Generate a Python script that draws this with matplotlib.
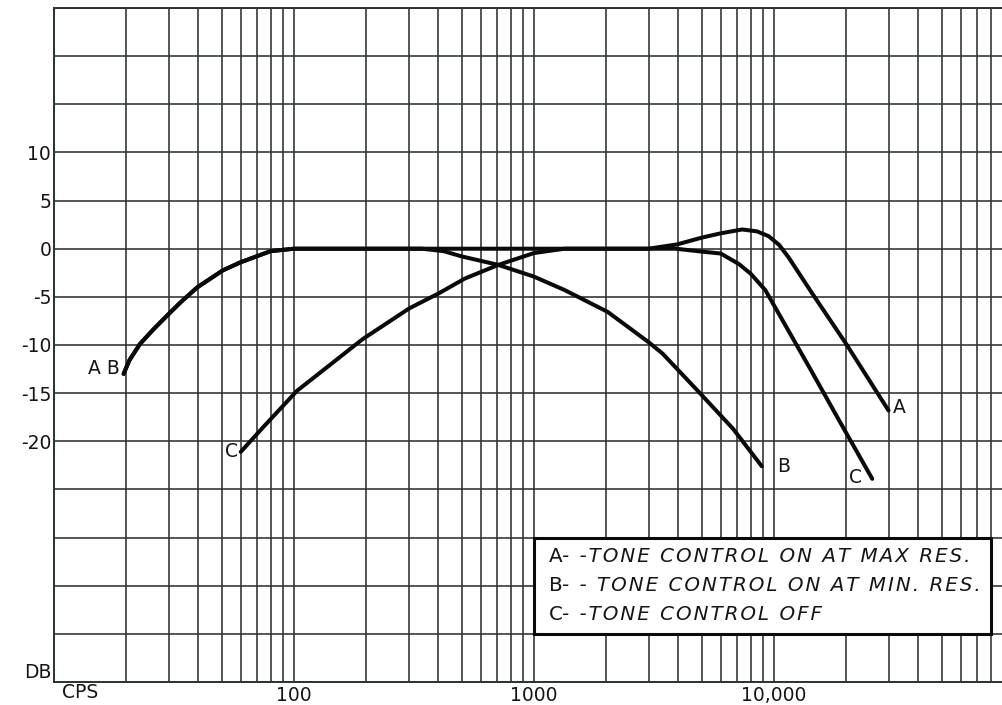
import matplotlib
matplotlib.use("Agg")
import matplotlib.pyplot as plt
from matplotlib.patches import Rectangle

# ---------------- data ----------------
a_freq = [19.5, 20.6, 22.8, 25.9, 30, 33.9, 39.6, 50.5, 60, 80, 100, 200, 500, 1000, 2000, 3000,
          3950, 5000, 6000, 7370, 8500, 9500, 10500, 11500, 14480, 20000, 30000]
a_db = [-13.0, -11.6, -9.9, -8.4, -6.8, -5.5, -4.0, -2.25, -1.4, -0.25, 0, 0, 0, 0, 0, 0,
        0.45, 1.15, 1.6, 2.0, 1.8, 1.3, 0.4, -0.9, -4.7, -9.9, -16.8]

b_freq = [19.5, 20.6, 22.8, 25.9, 30, 33.9, 39.6, 50.5, 60, 80, 100, 200, 341, 420, 500, 710, 1000,
          1343, 2030, 3000, 3436, 5000, 6750, 8900]
b_db = [-13.0, -11.6, -9.9, -8.4, -6.8, -5.5, -4.0, -2.25, -1.4, -0.25, 0, 0, 0, -0.25, -0.8, -1.68, -2.9,
        -4.3, -6.57, -9.7, -10.9, -15.2, -18.7, -22.6]

c_freq = [60, 74, 103, 139, 193, 302, 400, 515, 710, 1000, 1340, 2000, 3000,
          3900, 5000, 6000, 7150, 8000, 9200, 10170, 14020, 19340, 25670]
c_db = [-21.1, -18.6, -14.75, -12.2, -9.4, -6.2, -4.65, -3.1, -1.68, -0.45, 0, 0, 0,
        0, -0.3, -0.5, -1.6, -2.6, -4.3, -6.2, -12.3, -18.5, -23.9]

x_grid = [m * 10 ** d for d in range(1, 5) for m in range(1, 10)] + [100000]
x_label_map = {100: "100", 1000: "1000", 10000: "10,000"}
y_grid = list(range(-45, 26, 5))
y_label_map = {10: "10", 5: "5", 0: "0", -5: "-5", -10: "-10", -15: "-15", -20: "-20"}

legend_keys = ["A", "B", "C"]
legend_texts = ["- -TONE CONTROL ON AT MAX RES.",
                "- - TONE CONTROL ON AT MIN. RES.",
                "- -TONE CONTROL OFF"]
legend_y = [-32.0, -35.0, -38.0]

# ---------------- figure ----------------
W, H = 1003, 705
fig = plt.figure(figsize=(W / 100, H / 100), dpi=100)
fig.patch.set_facecolor("white")
ax = fig.add_axes([54 / W, (H - 682) / H, 960 / W, 674 / H])
ax.set_xscale("log")
ax.set_xlim(10, 100000)
ax.set_ylim(-45, 25)

grid_col = "#2c3230"
txt_col = "#151515"

ax.set_xticks(x_grid)
ax.set_xticklabels([x_label_map.get(int(v), "") for v in x_grid])
ax.minorticks_off()
ax.set_yticks(y_grid)
ax.set_yticklabels([y_label_map.get(v, "") for v in y_grid])
ax.tick_params(axis="both", length=0, labelsize=13.5, colors=txt_col)
ax.tick_params(axis="y", pad=2)
ax.tick_params(axis="x", pad=3)
ax.grid(True, color=grid_col, linewidth=1.15)
ax.set_axisbelow(True)
for s in ["left", "top", "bottom"]:
    ax.spines[s].set_color(grid_col)
    ax.spines[s].set_linewidth(1.4)
ax.spines["right"].set_visible(False)

lw = 2.9
for fx, fy in [(a_freq, a_db), (b_freq, b_db), (c_freq, c_db)]:
    ax.plot(fx, fy, color="#0a0a0a", lw=lw, solid_capstyle="round",
            solid_joinstyle="round", zorder=3)

fs = 13.5
# curve labels
ax.annotate("A B", xy=(a_freq[0], a_db[0]), xytext=(-4, 5), textcoords="offset pixels",
            ha="right", va="center", fontsize=fs, color=txt_col)
ax.annotate("C", xy=(c_freq[0], c_db[0]), xytext=(-3, 0), textcoords="offset pixels",
            ha="right", va="center", fontsize=fs, color=txt_col)
ax.annotate("A", xy=(a_freq[-1], a_db[-1]), xytext=(4, 3), textcoords="offset pixels",
            ha="left", va="center", fontsize=fs, color=txt_col)
ax.annotate("B", xy=(b_freq[-1], b_db[-1]), xytext=(15, 0), textcoords="offset pixels",
            ha="left", va="center", fontsize=fs, color=txt_col)
ax.annotate("C", xy=(c_freq[-1], c_db[-1]), xytext=(-10, 1), textcoords="offset pixels",
            ha="right", va="center", fontsize=fs, color=txt_col)

# axis words
ax.text(-0.002, 9 / 674, "DB", transform=ax.transAxes, ha="right", va="center",
        fontsize=fs, color=txt_col)
ax.text(8 / 960, -11 / 674, "CPS", transform=ax.transAxes, ha="left", va="center",
        fontsize=fs, color=txt_col)

# legend box
box = Rectangle((1000, -40), 80000 - 1000, 10, facecolor="white", edgecolor="#0a0a0a",
                lw=2.2, zorder=4)
ax.add_patch(box)
lfs = 14.3
for key, desc, yy in zip(legend_keys, legend_texts, legend_y):
    t = ax.text(1150, yy, key, ha="left", va="center", fontsize=lfs, color=txt_col, zorder=5)
    spaced = "\u200a".join(desc)
    ax.annotate(spaced, xy=(1, 0.5), xycoords=t, ha="left", va="center", fontsize=lfs,
                style="italic", color=txt_col, zorder=5)

fig.savefig("out.png", dpi=100)
